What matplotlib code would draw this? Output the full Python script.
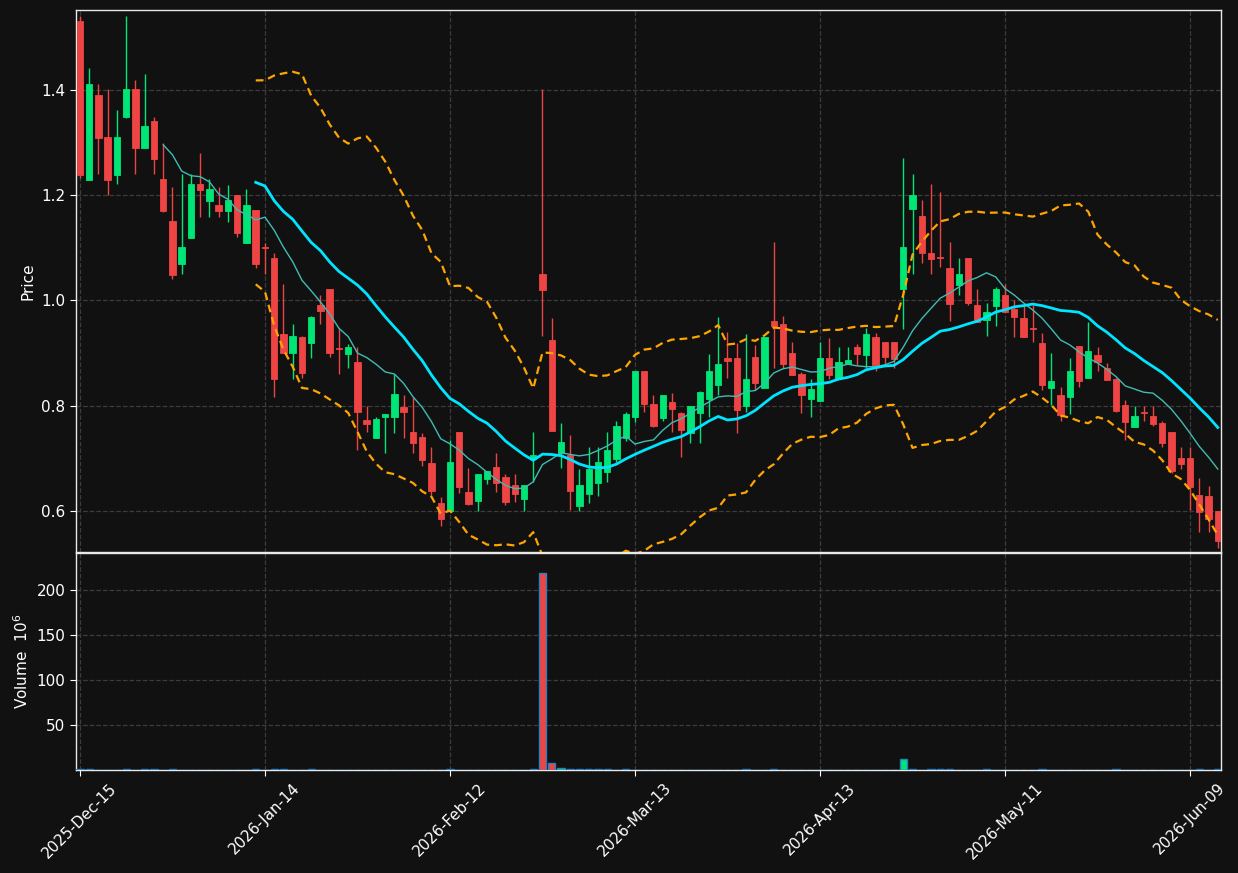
import matplotlib
matplotlib.use('Agg')
import matplotlib.pyplot as plt
import numpy as np
import pandas as pd

# ---------------- data ----------------
tick_labels = ['2025-Dec-15', '2026-Jan-14', '2026-Feb-12', '2026-Mar-13',
               '2026-Apr-13', '2026-May-11', '2026-Jun-09']

opens = [1.531, 1.229, 1.390, 1.310, 1.238, 1.348, 1.402, 1.290, 1.341, 1.231,
         1.151, 1.069, 1.119, 1.221, 1.189, 1.181, 1.170, 1.200, 1.109, 1.172,
         1.101, 1.081, 0.936, 0.900, 0.930, 0.919, 0.991, 1.022, 0.910, 0.898,
         0.883, 0.773, 0.739, 0.779, 0.779, 0.798, 0.750, 0.741, 0.691, 0.615,
         0.600, 0.750, 0.636, 0.619, 0.661, 0.684, 0.665, 0.649, 0.623, 0.699,
         1.050, 0.925, 0.710, 0.706, 0.609, 0.632, 0.653, 0.674, 0.699, 0.739,
         0.779, 0.866, 0.803, 0.777, 0.807, 0.786, 0.748, 0.786, 0.813, 0.839,
         0.891, 0.891, 0.799, 0.893, 0.834, 0.961, 0.955, 0.900, 0.860, 0.813,
         0.809, 0.891, 0.853, 0.879, 0.912, 0.896, 0.930, 0.921, 0.921, 1.022,
         1.174, 1.160, 1.090, 1.082, 1.062, 1.029, 1.081, 0.991, 0.963, 0.989,
         1.010, 0.984, 0.967, 0.948, 0.919, 0.834, 0.820, 0.817, 0.913, 0.853,
         0.896, 0.872, 0.851, 0.801, 0.760, 0.788, 0.780, 0.767, 0.750, 0.701,
         0.701, 0.630, 0.628, 0.600]

highs = [1.540, 1.441, 1.411, 1.402, 1.362, 1.540, 1.419, 1.430, 1.348, 1.299,
         1.215, 1.240, 1.240, 1.280, 1.231, 1.215, 1.219, 1.201, 1.212, 1.172,
         1.109, 1.090, 1.031, 0.955, 0.932, 0.970, 1.010, 1.022, 0.948, 0.917,
         0.912, 0.800, 0.779, 0.784, 0.860, 0.820, 0.817, 0.748, 0.722, 0.627,
         0.735, 0.750, 0.682, 0.670, 0.676, 0.710, 0.670, 0.670, 0.650, 0.750,
         1.401, 0.967, 0.767, 0.744, 0.680, 0.722, 0.722, 0.750, 0.771, 0.788,
         0.866, 0.866, 0.820, 0.820, 0.824, 0.788, 0.799, 0.828, 0.898, 0.968,
         0.940, 0.919, 0.936, 0.915, 0.930, 1.111, 0.970, 0.921, 0.864, 0.851,
         0.921, 0.929, 0.912, 0.912, 0.917, 0.948, 0.938, 0.921, 0.921, 1.270,
         1.240, 1.191, 1.221, 1.206, 1.111, 1.081, 1.081, 1.022, 0.995, 1.025,
         1.031, 1.001, 0.993, 0.991, 0.938, 0.900, 0.836, 0.891, 0.913, 0.959,
         0.912, 0.881, 0.853, 0.811, 0.800, 0.800, 0.800, 0.771, 0.750, 0.722,
         0.722, 0.663, 0.647, 0.600]

lows = [1.232, 1.228, 1.240, 1.200, 1.221, 1.346, 1.240, 1.289, 1.240, 1.168,
        1.041, 1.050, 1.118, 1.158, 1.158, 1.158, 1.149, 1.120, 1.109, 1.062,
        1.050, 0.817, 0.900, 0.851, 0.853, 0.891, 0.955, 0.893, 0.860, 0.872,
        0.716, 0.750, 0.739, 0.710, 0.748, 0.739, 0.710, 0.685, 0.630, 0.572,
        0.600, 0.634, 0.611, 0.600, 0.651, 0.636, 0.611, 0.617, 0.600, 0.655,
        0.932, 0.752, 0.682, 0.602, 0.600, 0.615, 0.628, 0.655, 0.693, 0.733,
        0.769, 0.788, 0.760, 0.771, 0.750, 0.703, 0.729, 0.729, 0.779, 0.820,
        0.853, 0.748, 0.788, 0.830, 0.834, 0.872, 0.872, 0.858, 0.786, 0.779,
        0.809, 0.851, 0.853, 0.879, 0.877, 0.872, 0.866, 0.877, 0.872, 0.946,
        1.050, 1.071, 1.050, 1.063, 0.961, 1.010, 0.991, 0.959, 0.932, 0.951,
        0.978, 0.930, 0.930, 0.921, 0.830, 0.801, 0.771, 0.784, 0.836, 0.853,
        0.866, 0.849, 0.788, 0.735, 0.760, 0.771, 0.761, 0.722, 0.672, 0.680,
        0.602, 0.560, 0.560, 0.530]

closes = [1.238, 1.411, 1.308, 1.229, 1.310, 1.402, 1.290, 1.331, 1.269, 1.170,
          1.048, 1.101, 1.221, 1.210, 1.212, 1.170, 1.191, 1.128, 1.181, 1.069,
          1.100, 0.851, 0.900, 0.932, 0.862, 0.968, 0.980, 0.900, 0.908, 0.912,
          0.788, 0.765, 0.775, 0.784, 0.822, 0.788, 0.729, 0.697, 0.638, 0.585,
          0.693, 0.646, 0.613, 0.670, 0.676, 0.653, 0.617, 0.632, 0.649, 0.706,
          1.020, 0.752, 0.731, 0.638, 0.649, 0.680, 0.693, 0.716, 0.761, 0.784,
          0.866, 0.803, 0.761, 0.820, 0.794, 0.754, 0.799, 0.826, 0.866, 0.879,
          0.885, 0.792, 0.851, 0.843, 0.930, 0.951, 0.879, 0.858, 0.820, 0.832,
          0.891, 0.858, 0.883, 0.887, 0.898, 0.936, 0.877, 0.893, 0.889, 1.101,
          1.200, 1.090, 1.079, 1.081, 0.993, 1.050, 0.995, 0.959, 0.978, 1.022,
          0.978, 0.968, 0.930, 0.946, 0.839, 0.847, 0.782, 0.866, 0.847, 0.904,
          0.883, 0.849, 0.790, 0.769, 0.780, 0.786, 0.765, 0.729, 0.676, 0.689,
          0.646, 0.598, 0.585, 0.543]

# volume in millions
volumes = [0.8, 0.8, 0.1, 0.1, 0.1, 0.8, 0.1, 0.8, 0.8, 0.1,
           0.8, 0.1, 0.1, 0.1, 0.1, 0.1, 0.1, 0.1, 0.1, 0.8,
           0.1, 0.8, 0.8, 0.1, 0.1, 0.8, 0.1, 0.1, 0.1, 0.1,
           0.1, 0.1, 0.1, 0.1, 0.1, 0.1, 0.1, 0.1, 0.1, 0.1,
           0.8, 0.1, 0.1, 0.1, 0.1, 0.1, 0.1, 0.1, 0.1, 0.8,
           219.0, 7.8, 2.2, 0.8, 0.8, 0.8, 0.8, 0.8, 0.1, 0.8,
           0.1, 0.1, 0.1, 0.1, 0.1, 0.1, 0.1, 0.1, 0.1, 0.1,
           0.1, 0.1, 0.8, 0.1, 0.1, 0.8, 0.1, 0.1, 0.1, 0.1,
           0.1, 0.1, 0.1, 0.1, 0.1, 0.1, 0.1, 0.1, 0.1, 12.2,
           0.8, 0.1, 0.8, 0.8, 0.8, 0.1, 0.1, 0.1, 0.8, 0.1,
           0.1, 0.1, 0.1, 0.1, 0.8, 0.1, 0.1, 0.1, 0.1, 0.1,
           0.1, 0.1, 0.8, 0.1, 0.1, 0.1, 0.1, 0.1, 0.1, 0.1,
           0.1, 0.8, 0.1, 0.8]

# ---------------- derived ----------------
o = np.array(opens); h = np.array(highs); l = np.array(lows); c = np.array(closes)
v = np.array(volumes)
n = len(c)
x = np.arange(n)
cs = pd.Series(c)
ma10 = cs.rolling(10).mean()
ma20 = cs.rolling(20).mean()
sd20 = cs.rolling(20).std(ddof=0)
upper = ma20 + 2 * sd20
lower = ma20 - 2 * sd20

BG = '#111111'
UP = '#00e676'
DOWN = '#ef4444'
up = c >= o
cols = np.where(up, UP, DOWN)

fig = plt.figure(figsize=(12.38, 8.73), dpi=100, facecolor=BG)
axp = fig.add_axes([76/1238, 1-552/873, (1221-76)/1238, (552-10)/873])
axv = fig.add_axes([76/1238, 1-770/873, (1221-76)/1238, (770-553)/873], sharex=axp)

for ax in (axp, axv):
    ax.set_facecolor(BG)
    for s in ax.spines.values():
        s.set_color('#e8e8e8')
        s.set_linewidth(1.0)
    ax.grid(True, color='#3c3c3c', linestyle='--', linewidth=0.9)
    ax.set_axisbelow(True)
    ax.tick_params(colors='white', labelcolor='white', labelsize=11, length=4)

# candles
axp.vlines(x, l, h, colors=cols, linewidth=1.0, zorder=2)
body_bot = np.minimum(o, c)
body_h = np.abs(c - o)
axp.bar(x, body_h, bottom=body_bot, width=0.7, color=cols, edgecolor=cols,
        linewidth=0.6, zorder=3)

# moving averages and bands
axp.plot(x, ma10, color='#3fbcb4', linewidth=1.0, zorder=4)
axp.plot(x, ma20, color='#00e5ff', linewidth=2.0, zorder=4)
axp.plot(x, upper, color='#ffa500', linewidth=1.6, linestyle=(0, (3.5, 2.2)), zorder=4)
axp.plot(x, lower, color='#ffa500', linewidth=1.6, linestyle=(0, (3.5, 2.2)), zorder=4)

axp.set_ylim(0.522, 1.552)
axp.set_yticks([0.6, 0.8, 1.0, 1.2, 1.4])
axp.set_ylabel('Price', color='white', fontsize=11)
axp.tick_params(axis='x', labelbottom=False, length=0)

# volume
axv.bar(x, v, width=0.8, color=cols, edgecolor='#2a7fc4', linewidth=1.0, zorder=3)
axv.set_ylim(0, 241.5)
axv.set_yticks([50, 100, 150, 200])
axv.set_ylabel('Volume  $10^{6}$', color='white', fontsize=11)

tick_pos = list(range(0, n, 20))[:len(tick_labels)]
axv.set_xticks(tick_pos)
axv.set_xticklabels(tick_labels, rotation=45, ha='center', fontsize=11)
axv.set_xlim(-0.43, 123.35)

fig.savefig('out.png', dpi=100, facecolor=BG)
